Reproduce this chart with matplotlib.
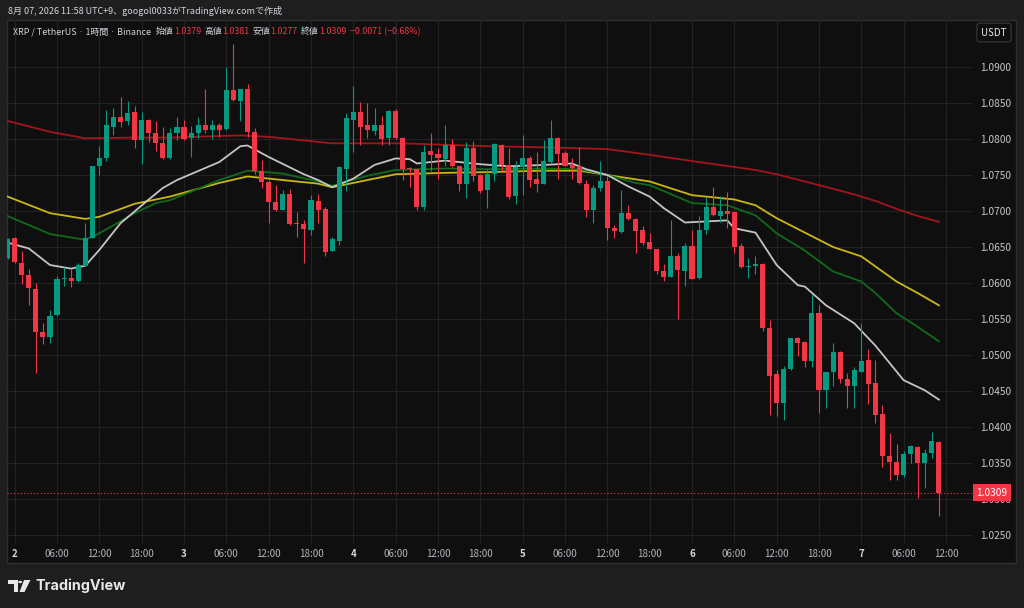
import matplotlib
matplotlib.use("Agg")
import matplotlib.pyplot as plt
from matplotlib.patches import Rectangle, Polygon, Circle
from matplotlib.transforms import blended_transform_factory
import numpy as np

plt.rcParams['font.family'] = ['Noto Sans CJK JP', 'DejaVu Sans']

# ---------------- data (1h candles, day1 23:00 -> day7 11:00) ----------------
opens = [1.0635, 1.0662, 1.0628, 1.0611, 1.0592, 1.0532, 1.0525, 1.0555, 1.0606, 1.0607,
         1.0603, 1.0624, 1.0663, 1.0763, 1.0773, 1.0817, 1.0830, 1.0825, 1.0837, 1.0799,
         1.0827, 1.0809, 1.0794, 1.0773, 1.0808, 1.0816, 1.0801, 1.0808, 1.0819, 1.0813,
         1.0819, 1.0814, 1.0868, 1.0853, 1.0869, 1.0810, 1.0755, 1.0740, 1.0712, 1.0702,
         1.0723, 1.0683, 1.0682, 1.0674, 1.0714, 1.0703, 1.0645, 1.0659, 1.0759, 1.0827,
         1.0838, 1.0819, 1.0811, 1.0820, 1.0801, 1.0839, 1.0802, 1.0760, 1.0758, 1.0705,
         1.0783, 1.0779, 1.0772, 1.0792, 1.0763, 1.0737, 1.0787, 1.0750, 1.0729, 1.0752,
         1.0792, 1.0764, 1.0721, 1.0761, 1.0773, 1.0744, 1.0737, 1.0768, 1.0801, 1.0781,
         1.0764, 1.0762, 1.0737, 1.0701, 1.0732, 1.0742, 1.0677, 1.0671, 1.0697, 1.0689,
         1.0673, 1.0657, 1.0647, 1.0617, 1.0609, 1.0638, 1.0617, 1.0652, 1.0607, 1.0673,
         1.0705, 1.0693, 1.0700, 1.0698, 1.0651, 1.0622, 1.0623, 1.0627, 1.0538, 1.0474,
         1.0433, 1.0480, 1.0524, 1.0518, 1.0491, 1.0559, 1.0451, 1.0477, 1.0504, 1.0467,
         1.0457, 1.0477, 1.0493, 1.0461, 1.0418, 1.0360, 1.0352, 1.0334, 1.0362, 1.0372,
         1.0350, 1.0364, 1.0379]
highs = [1.0662, 1.0664, 1.0645, 1.0620, 1.0600, 1.0544, 1.0563, 1.0610, 1.0622, 1.0619,
         1.0628, 1.0684, 1.0763, 1.0790, 1.0840, 1.0843, 1.0859, 1.0853, 1.0846, 1.0837,
         1.0828, 1.0825, 1.0817, 1.0815, 1.0831, 1.0827, 1.0818, 1.0831, 1.0870, 1.0826,
         1.0822, 1.0900, 1.0932, 1.0870, 1.0877, 1.0815, 1.0771, 1.0743, 1.0736, 1.0729,
         1.0730, 1.0699, 1.0688, 1.0722, 1.0724, 1.0706, 1.0664, 1.0762, 1.0836, 1.0874,
         1.0851, 1.0850, 1.0843, 1.0832, 1.0840, 1.0841, 1.0803, 1.0761, 1.0759, 1.0792,
         1.0809, 1.0787, 1.0819, 1.0800, 1.0763, 1.0796, 1.0797, 1.0751, 1.0758, 1.0794,
         1.0793, 1.0788, 1.0770, 1.0806, 1.0776, 1.0782, 1.0799, 1.0827, 1.0803, 1.0784,
         1.0774, 1.0789, 1.0743, 1.0736, 1.0769, 1.0749, 1.0680, 1.0729, 1.0708, 1.0690,
         1.0679, 1.0669, 1.0647, 1.0626, 1.0688, 1.0641, 1.0656, 1.0674, 1.0693, 1.0719,
         1.0733, 1.0721, 1.0726, 1.0699, 1.0656, 1.0635, 1.0638, 1.0628, 1.0549, 1.0479,
         1.0485, 1.0524, 1.0525, 1.0520, 1.0585, 1.0569, 1.0477, 1.0516, 1.0505, 1.0475,
         1.0483, 1.0544, 1.0509, 1.0493, 1.0431, 1.0391, 1.0376, 1.0367, 1.0375, 1.0373,
         1.0369, 1.0393, 1.0381]
lows = [1.0633, 1.0628, 1.0599, 1.0570, 1.0475, 1.0515, 1.0517, 1.0554, 1.0596, 1.0594,
        1.0602, 1.0623, 1.0662, 1.0750, 1.0770, 1.0806, 1.0816, 1.0819, 1.0787, 1.0765,
        1.0796, 1.0784, 1.0772, 1.0772, 1.0799, 1.0798, 1.0775, 1.0802, 1.0808, 1.0800,
        1.0803, 1.0813, 1.0853, 1.0825, 1.0803, 1.0752, 1.0732, 1.0684, 1.0700, 1.0701,
        1.0681, 1.0664, 1.0628, 1.0667, 1.0684, 1.0637, 1.0644, 1.0653, 1.0728, 1.0782,
        1.0792, 1.0801, 1.0806, 1.0792, 1.0792, 1.0800, 1.0743, 1.0733, 1.0701, 1.0701,
        1.0755, 1.0744, 1.0762, 1.0761, 1.0728, 1.0718, 1.0741, 1.0725, 1.0704, 1.0741,
        1.0755, 1.0716, 1.0710, 1.0722, 1.0734, 1.0727, 1.0737, 1.0767, 1.0744, 1.0762,
        1.0744, 1.0738, 1.0692, 1.0684, 1.0728, 1.0660, 1.0663, 1.0670, 1.0688, 1.0641,
        1.0653, 1.0647, 1.0612, 1.0603, 1.0608, 1.0550, 1.0596, 1.0605, 1.0606, 1.0668,
        1.0693, 1.0685, 1.0677, 1.0642, 1.0621, 1.0607, 1.0613, 1.0534, 1.0417, 1.0415,
        1.0410, 1.0479, 1.0498, 1.0484, 1.0484, 1.0419, 1.0426, 1.0457, 1.0461, 1.0427,
        1.0426, 1.0477, 1.0432, 1.0406, 1.0345, 1.0326, 1.0326, 1.0330, 1.0350, 1.0301,
        1.0315, 1.0357, 1.0277]
closes = [1.0661, 1.0629, 1.0611, 1.0593, 1.0532, 1.0525, 1.0554, 1.0606, 1.0607, 1.0603,
          1.0625, 1.0662, 1.0763, 1.0774, 1.0819, 1.0830, 1.0824, 1.0836, 1.0799, 1.0827,
          1.0809, 1.0794, 1.0774, 1.0808, 1.0816, 1.0800, 1.0808, 1.0819, 1.0813, 1.0819,
          1.0813, 1.0868, 1.0854, 1.0869, 1.0810, 1.0755, 1.0740, 1.0712, 1.0701, 1.0723,
          1.0682, 1.0682, 1.0675, 1.0715, 1.0701, 1.0643, 1.0661, 1.0761, 1.0829, 1.0838,
          1.0817, 1.0812, 1.0819, 1.0800, 1.0839, 1.0801, 1.0759, 1.0759, 1.0705, 1.0782,
          1.0778, 1.0773, 1.0792, 1.0762, 1.0738, 1.0787, 1.0749, 1.0728, 1.0752, 1.0793,
          1.0764, 1.0720, 1.0761, 1.0774, 1.0743, 1.0737, 1.0769, 1.0802, 1.0779, 1.0763,
          1.0760, 1.0739, 1.0702, 1.0732, 1.0741, 1.0676, 1.0672, 1.0697, 1.0689, 1.0672,
          1.0656, 1.0647, 1.0616, 1.0609, 1.0637, 1.0618, 1.0652, 1.0606, 1.0673, 1.0705,
          1.0694, 1.0700, 1.0696, 1.0650, 1.0622, 1.0623, 1.0626, 1.0538, 1.0471, 1.0434,
          1.0481, 1.0523, 1.0516, 1.0492, 1.0559, 1.0451, 1.0476, 1.0504, 1.0467, 1.0457,
          1.0479, 1.0492, 1.0460, 1.0416, 1.0360, 1.0351, 1.0334, 1.0362, 1.0373, 1.0350,
          1.0364, 1.0380, 1.0309]

# moving averages (candle index, price)
ma_white_idx = [0, 3, 6, 9, 11, 13, 16, 20, 22, 24, 30, 33, 34, 37, 42, 44, 46, 49, 52, 55, 57, 58,
                62, 67, 71, 76, 80, 82, 85, 88, 91, 93, 96, 102, 103, 106, 109, 112, 113, 116, 120,
                123, 127, 130, 132]
ma_white = [1.0656, 1.0648, 1.0625, 1.0620, 1.0624, 1.0646, 1.0683, 1.0716, 1.0732, 1.0743, 1.0768,
            1.0790, 1.0791, 1.0775, 1.0751, 1.0743, 1.0733, 1.0745, 1.0764, 1.0773, 1.0772, 1.0766,
            1.0770, 1.0765, 1.0762, 1.0764, 1.0766, 1.0758, 1.0750, 1.0734, 1.0720, 1.0704, 1.0684,
            1.0687, 1.0676, 1.0670, 1.0625, 1.0597, 1.0595, 1.0569, 1.0544, 1.0513, 1.0465, 1.0451,
            1.0438]
ma_green_idx = [0, 6, 11, 13, 18, 21, 23, 30, 34, 39, 44, 46, 51, 55, 62, 68, 76, 81, 85, 89, 91, 97,
                102, 106, 109, 113, 117, 121, 123, 126, 129, 132]
ma_green = [1.0693, 1.0668, 1.0660, 1.0669, 1.0697, 1.0711, 1.0715, 1.0743, 1.0756, 1.0752, 1.0741,
            1.0735, 1.0749, 1.0757, 1.0759, 1.0758, 1.0759, 1.0758, 1.0750, 1.0739, 1.0736, 1.0711,
            1.0708, 1.0694, 1.0669, 1.0645, 1.0616, 1.0602, 1.0586, 1.0558, 1.0539, 1.0519]
ma_yellow_idx = [0, 6, 11, 13, 18, 23, 30, 34, 39, 44, 46, 51, 55, 62, 68, 76, 81, 85, 91, 97, 103,
                 106, 109, 113, 117, 121, 123, 126, 129, 132]
ma_yellow = [1.0720, 1.0697, 1.0689, 1.0692, 1.0710, 1.0720, 1.0739, 1.0748, 1.0743, 1.0738, 1.0733,
             1.0743, 1.0751, 1.0753, 1.0754, 1.0756, 1.0756, 1.0750, 1.0741, 1.0722, 1.0716, 1.0708,
             1.0690, 1.0670, 1.0650, 1.0637, 1.0623, 1.0602, 1.0586, 1.0569]
ma_red_idx = [0, 6, 11, 18, 23, 33, 37, 44, 46, 56, 68, 78, 85, 91, 98, 106, 109, 115, 120, 123, 126,
              129, 132]
ma_red = [1.0825, 1.0810, 1.0801, 1.0802, 1.0802, 1.0805, 1.0803, 1.0796, 1.0794, 1.0794, 1.0790,
          1.0788, 1.0786, 1.0778, 1.0768, 1.0757, 1.0751, 1.0736, 1.0723, 1.0714, 1.0703, 1.0693,
          1.0685]

tick_labels = ["2", "06:00", "12:00", "18:00", "3", "06:00", "12:00", "18:00", "4", "06:00",
               "12:00", "18:00", "5", "06:00", "12:00", "18:00", "6", "06:00", "12:00", "18:00",
               "7", "06:00", "12:00"]
price_ticks = [1.0250, 1.0300, 1.0350, 1.0400, 1.0450, 1.0500, 1.0550, 1.0600, 1.0650, 1.0700,
               1.0750, 1.0800, 1.0850, 1.0900]

title_text = "8月 07, 2026 11:58 UTC+9、googol0033がTradingView.comで作成"
symbol_text = "XRP / TetherUS · 1時間 · Binance"
ohlc_labels = ["始値", "高値", "安値", "終値"]
change_text = "−0.0071 (−0.68%)"

# ---------------- styling ----------------
W, H = 1024, 608
UP, DN = '#089981', '#f23645'
BG_OUT, BG_IN = '#1e1e1e', '#0f0f0f'
TXT = '#d1d4dc'

fig = plt.figure(figsize=(W / 100, H / 100), dpi=100, facecolor=BG_OUT)
# chart panel (drawn beneath everything)
fig.patches.append(Rectangle((7 / W, 1 - 563 / H), (1016 - 7) / W, (563 - 20) / H,
                             transform=fig.transFigure, facecolor=BG_IN, edgecolor='#2e2e2e',
                             linewidth=1.0, zorder=-10))

L, R, T, B = 7.3, 972, 20, 543
ax = fig.add_axes([L / W, 1 - B / H, (R - L) / W, (B - T) / H], zorder=1)
ax.patch.set_alpha(0)
for s in ax.spines.values():
    s.set_visible(False)

idx = np.arange(len(opens))
o, h, l, c = map(np.array, (opens, highs, lows, closes))
up = c >= o
cols = np.where(up, UP, DN)

ax.vlines(idx, l, h, colors=cols, linewidth=0.8, zorder=3)
bottom = np.minimum(o, c)
height = np.maximum(np.abs(c - o), 0.00013)
ax.bar(idx, height, bottom=bottom, width=0.72, color=cols, linewidth=0, zorder=4)

ax.plot(ma_red_idx, ma_red, color='#a3151a', lw=1.3, zorder=2)
ax.plot(ma_yellow_idx, ma_yellow, color='#c9b714', lw=1.3, zorder=2)
ax.plot(ma_green_idx, ma_green, color='#0f6b1a', lw=1.3, zorder=2)
ax.plot(ma_white_idx, ma_white, color='#c4c4c4', lw=1.3, zorder=2)

ax.axhline(closes[-1], color=DN, lw=0.8, linestyle=(0, (1, 2)), zorder=5)

x_left = (L - 7.65) / 7.055
x_right = (R - 7.65) / 7.055
ax.set_xlim(x_left, x_right)
y_top = 1.09 + (67 - T) / 7200
y_bot = 1.09 - (B - 67) / 7200
ax.set_ylim(y_bot, y_top)

tick_pos = [1 + 6 * k for k in range(len(tick_labels))]
ax.set_xticks(tick_pos)
ax.set_xticklabels(tick_labels)
ax.tick_params(axis='x', length=0, pad=4.5, labelsize=7, labelcolor='#b2b5be')
for lab in ax.get_xticklabels():
    if ':' not in lab.get_text():
        lab.set_fontweight('bold')
        lab.set_color('#d8d8d8')

ax.yaxis.tick_right()
ax.set_yticks(price_ticks)
ax.set_yticklabels([f"{p:.4f}" for p in price_ticks])
ax.tick_params(axis='y', length=0, pad=6, labelsize=7.3, labelcolor='#c8c8c8')
ax.grid(True, color='#222222', linewidth=0.8, zorder=0)
ax.set_axisbelow(True)

# current price label
tr = blended_transform_factory(ax.transAxes, ax.transData)
ax.text((976.5 - L) / (R - L), closes[-1], f"{closes[-1]:.4f}", transform=tr, fontsize=7.3,
        color='white', va='center', ha='left', clip_on=False, zorder=20,
        bbox=dict(boxstyle='square,pad=0.3', fc=DN, ec='none'))

# USDT box
fig.text(994 / W, 1 - 32.5 / H, "USDT", fontsize=7, color='#e8e8e8', ha='center', va='center',
         bbox=dict(boxstyle='round,pad=0.45,rounding_size=0.3', fc=BG_IN, ec='#3a3a3a', lw=0.8))

# header
fig.text(8 / W, 1 - 11 / H, title_text, fontsize=6.5, color=TXT, ha='left', va='center')

renderer = fig.canvas.get_renderer()


def seq(pieces, x0, y, fs):
    x = x0
    for s, col, gap in pieces:
        t = fig.text(x / W, 1 - y / H, s, fontsize=fs, color=col, ha='left', va='center')
        bb = t.get_window_extent(renderer)
        x = bb.x1 + gap


pieces = [(symbol_text, TXT, 5)]
vals = [opens[-1], highs[-1], lows[-1], closes[-1]]
for lab, v in zip(ohlc_labels, vals):
    pieces.append((lab, TXT, 0))
    pieces.append((f"{v:.4f}", DN, 3.5))
pieces.append((change_text, DN, 0))
seq(pieces, 13, 31.5, 6.4)

# TradingView logo
lt = fig.transFigure
def P(x, y):
    return (x / W, 1 - y / H)
fig.patches.append(Polygon([P(8, 580), P(17.5, 580), P(17.5, 592), P(13.5, 592), P(13.5, 584),
                            P(8, 584)], closed=True, transform=lt, fc='#e8e8e8', ec='none'))
fig.patches.append(Circle(P(20.2, 582), 2.0 / W, transform=lt, fc='#e8e8e8', ec='none'))
fig.patches.append(Polygon([P(24, 580), P(30.5, 580), P(24.5, 592), P(19.5, 592)], closed=True,
                           transform=lt, fc='#e8e8e8', ec='none'))
fig.text(36 / W, 1 - 586 / H, "TradingView", fontsize=10.4, fontweight='bold', color='#e8e8e8',
         ha='left', va='center', family=['Inter', 'DejaVu Sans'])

fig.savefig("out.png", dpi=100, facecolor=BG_OUT)
